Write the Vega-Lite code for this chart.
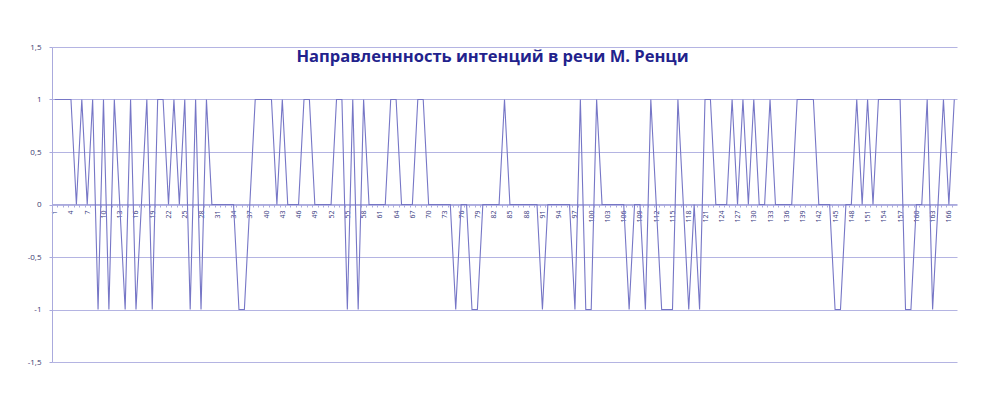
{
  "$schema": "https://vega.github.io/schema/vega-lite/v6.json",
  "width": 905,
  "height": 315,
  "autosize": "none",
  "padding": {"left": 52, "top": 47, "right": 28, "bottom": 38},
  "background": "white",
  "config": {"view": {"stroke": null}, "font": "Open Sans"},
  "title": {
    "text": "Направленнность интенций в речи М. Ренци",
    "fontSize": 16.5,
    "fontWeight": "bold",
    "font": "Open Sans",
    "color": "#22228c",
    "anchor": "middle",
    "offset": -22,
    "dx": -12
  },
  "data": {
    "values": [
      {"i":1,"v":1},{"i":2,"v":1},{"i":3,"v":1},{"i":4,"v":1},{"i":5,"v":0},{"i":6,"v":1},{"i":7,"v":0},{"i":8,"v":1},{"i":9,"v":-1},{"i":10,"v":1},
      {"i":11,"v":-1},{"i":12,"v":1},{"i":13,"v":0},{"i":14,"v":-1},{"i":15,"v":1},{"i":16,"v":-1},{"i":17,"v":0},{"i":18,"v":1},{"i":19,"v":-1},{"i":20,"v":1},
      {"i":21,"v":1},{"i":22,"v":0},{"i":23,"v":1},{"i":24,"v":0},{"i":25,"v":1},{"i":26,"v":-1},{"i":27,"v":1},{"i":28,"v":-1},{"i":29,"v":1},{"i":30,"v":0},
      {"i":31,"v":0},{"i":32,"v":0},{"i":33,"v":0},{"i":34,"v":0},{"i":35,"v":-1},{"i":36,"v":-1},{"i":37,"v":0},{"i":38,"v":1},{"i":39,"v":1},{"i":40,"v":1},
      {"i":41,"v":1},{"i":42,"v":0},{"i":43,"v":1},{"i":44,"v":0},{"i":45,"v":0},{"i":46,"v":0},{"i":47,"v":1},{"i":48,"v":1},{"i":49,"v":0},{"i":50,"v":0},
      {"i":51,"v":0},{"i":52,"v":0},{"i":53,"v":1},{"i":54,"v":1},{"i":55,"v":-1},{"i":56,"v":1},{"i":57,"v":-1},{"i":58,"v":1},{"i":59,"v":0},{"i":60,"v":0},
      {"i":61,"v":0},{"i":62,"v":0},{"i":63,"v":1},{"i":64,"v":1},{"i":65,"v":0},{"i":66,"v":0},{"i":67,"v":0},{"i":68,"v":1},{"i":69,"v":1},{"i":70,"v":0},
      {"i":71,"v":0},{"i":72,"v":0},{"i":73,"v":0},{"i":74,"v":0},{"i":75,"v":-1},{"i":76,"v":0},{"i":77,"v":0},{"i":78,"v":-1},{"i":79,"v":-1},{"i":80,"v":0},
      {"i":81,"v":0},{"i":82,"v":0},{"i":83,"v":0},{"i":84,"v":1},{"i":85,"v":0},{"i":86,"v":0},{"i":87,"v":0},{"i":88,"v":0},{"i":89,"v":0},{"i":90,"v":0},
      {"i":91,"v":-1},{"i":92,"v":0},{"i":93,"v":0},{"i":94,"v":0},{"i":95,"v":0},{"i":96,"v":0},{"i":97,"v":-1},{"i":98,"v":1},{"i":99,"v":-1},{"i":100,"v":-1},
      {"i":101,"v":1},{"i":102,"v":0},{"i":103,"v":0},{"i":104,"v":0},{"i":105,"v":0},{"i":106,"v":0},{"i":107,"v":-1},{"i":108,"v":0},{"i":109,"v":0},{"i":110,"v":-1},
      {"i":111,"v":1},{"i":112,"v":0},{"i":113,"v":-1},{"i":114,"v":-1},{"i":115,"v":-1},{"i":116,"v":1},{"i":117,"v":0},{"i":118,"v":-1},{"i":119,"v":0},{"i":120,"v":-1},
      {"i":121,"v":1},{"i":122,"v":1},{"i":123,"v":0},{"i":124,"v":0},{"i":125,"v":0},{"i":126,"v":1},{"i":127,"v":0},{"i":128,"v":1},{"i":129,"v":0},{"i":130,"v":1},
      {"i":131,"v":0},{"i":132,"v":0},{"i":133,"v":1},{"i":134,"v":0},{"i":135,"v":0},{"i":136,"v":0},{"i":137,"v":0},{"i":138,"v":1},{"i":139,"v":1},{"i":140,"v":1},
      {"i":141,"v":1},{"i":142,"v":0},{"i":143,"v":0},{"i":144,"v":0},{"i":145,"v":-1},{"i":146,"v":-1},{"i":147,"v":0},{"i":148,"v":0},{"i":149,"v":1},{"i":150,"v":0},
      {"i":151,"v":1},{"i":152,"v":0},{"i":153,"v":1},{"i":154,"v":1},{"i":155,"v":1},{"i":156,"v":1},{"i":157,"v":1},{"i":158,"v":-1},{"i":159,"v":-1},{"i":160,"v":0},
      {"i":161,"v":0},{"i":162,"v":1},{"i":163,"v":-1},{"i":164,"v":0},{"i":165,"v":1},{"i":166,"v":0},{"i":167,"v":1}
    ]
  },
  "mark": {"type": "line", "color": "#7676c6", "strokeWidth": 1.1},
  "encoding": {
    "x": {
      "field": "i",
      "type": "quantitative",
      "scale": {"domain": [0.5, 167.5], "nice": false, "zero": false},
      "axis": {
        "title": null,
        "offset": -158,
        "grid": false,
        "values": [1,2,3,4,5,6,7,8,9,10,11,12,13,14,15,16,17,18,19,20,21,22,23,24,25,26,27,28,29,30,31,32,33,34,35,36,37,38,39,40,41,42,43,44,45,46,47,48,49,50,51,52,53,54,55,56,57,58,59,60,61,62,63,64,65,66,67,68,69,70,71,72,73,74,75,76,77,78,79,80,81,82,83,84,85,86,87,88,89,90,91,92,93,94,95,96,97,98,99,100,101,102,103,104,105,106,107,108,109,110,111,112,113,114,115,116,117,118,119,120,121,122,123,124,125,126,127,128,129,130,131,132,133,134,135,136,137,138,139,140,141,142,143,144,145,146,147,148,149,150,151,152,153,154,155,156,157,158,159,160,161,162,163,164,165,166,167],
        "labelExpr": "(datum.value - 1) % 3 == 0 ? datum.label : ''",
        "tickOffset": -2.7,
        "labelOffset": 2.7,
        "labelAngle": 270,
        "labelOverlap": false,
        "labelFlush": false,
        "labelBound": false,
        "labelFontSize": 7,
        "labelColor": "#3a3a80",
        "labelPadding": 3,
        "domainColor": "#aaaadd",
        "tickColor": "#aaaadd",
        "tickSize": 3
      }
    },
    "y": {
      "field": "v",
      "type": "quantitative",
      "scale": {"domain": [-1.5, 1.5], "nice": false},
      "axis": {
        "title": null,
        "values": [-1.5, -1, -0.5, 0, 0.5, 1, 1.5],
        "labelExpr": "replace(toString(datum.value), '.', ',')",
        "labelFontSize": 8,
        "labelColor": "#3a3a70",
        "labelPadding": 8,
        "domainColor": "#aaaadd",
        "tickColor": "#aaaadd",
        "tickSize": 3,
        "gridColor": "#b4b4e2",
        "gridWidth": 1
      }
    }
  }
}
